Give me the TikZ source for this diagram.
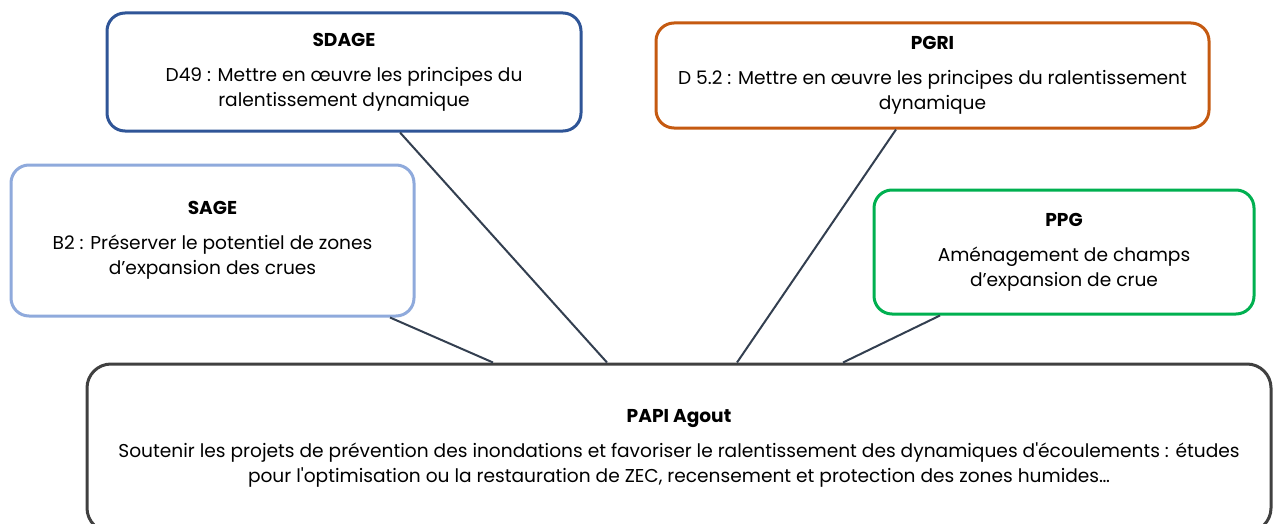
\documentclass[tikz,border=0pt]{standalone}
\usepackage{fontspec}
\setmainfont{Poppins}[Ligatures=TeXOff]
\usetikzlibrary{positioning}
\definecolor{SdageBlue}{HTML}{2F5597}
\definecolor{PgriOrange}{HTML}{C55A11}
\definecolor{SageBlue}{HTML}{8FAADC}
\definecolor{PpgGreen}{HTML}{00B050}
\definecolor{PapiGray}{HTML}{404040}
\definecolor{LinkSlate}{HTML}{333F50}

\begin{document}
\begin{tikzpicture}[x=1pt,y=-1pt,
  box/.style={draw, line width=3pt, rounded corners=18pt, fill=white, align=center,
    inner sep=0pt, font=\fontsize{18.6}{25}\selectfont},
  link/.style={LinkSlate, line width=2pt}]
  % Frame of the page
  \useasboundingbox (0,0) rectangle (1273,524);
  \clip (0,0) rectangle (1273,524);

  % Upper boxes
  \node[box, draw=SdageBlue, minimum width=474pt, minimum height=118pt] (sdage) at (344,72)
    {\textbf{SDAGE}\\[10pt] D49 : Mettre en œuvre les principes du\\ ralentissement dynamique};
  \node[box, draw=PgriOrange, minimum width=553pt, minimum height=105pt] (pgri) at (932.5,75.5)
    {\textbf{PGRI}\\[10pt] D 5.2 : Mettre en œuvre les principes du ralentissement\\ dynamique};
  \node[box, draw=SageBlue, minimum width=403pt, minimum height=151pt] (sage) at (212.5,240.5)
    {\textbf{SAGE}\\[10pt] B2 : Préserver le potentiel de zones\\ d’expansion des crues};
  \node[box, draw=PpgGreen, minimum width=380pt, minimum height=124pt] (ppg) at (1064,252)
    {\textbf{PPG}\\[10pt] Aménagement de champs\\ d’expansion de crue};

  % Main box
  \node[box, draw=PapiGray, rounded corners=24pt, minimum width=1184pt, minimum height=168pt] (papi) at (679,448)
    {\textbf{PAPI Agout}\\[10pt] Soutenir les projets de prévention des inondations et favoriser le ralentissement des dynamiques d'écoulements : études\\ pour l'optimisation ou la restauration de ZEC, recensement et protection des zones humides…};

  % Connectors
  \draw[link] ([xshift=56pt]sdage.south) -- ([xshift=-72pt]papi.north);
  \draw[link] ([xshift=-36.5pt]pgri.south) -- ([xshift=58pt]papi.north);
  \draw[link] ([xshift=177.5pt]sage.south) -- ([xshift=-186pt]papi.north);
  \draw[link] ([xshift=-124pt]ppg.south) -- ([xshift=164pt]papi.north);
\end{tikzpicture}
\end{document}
